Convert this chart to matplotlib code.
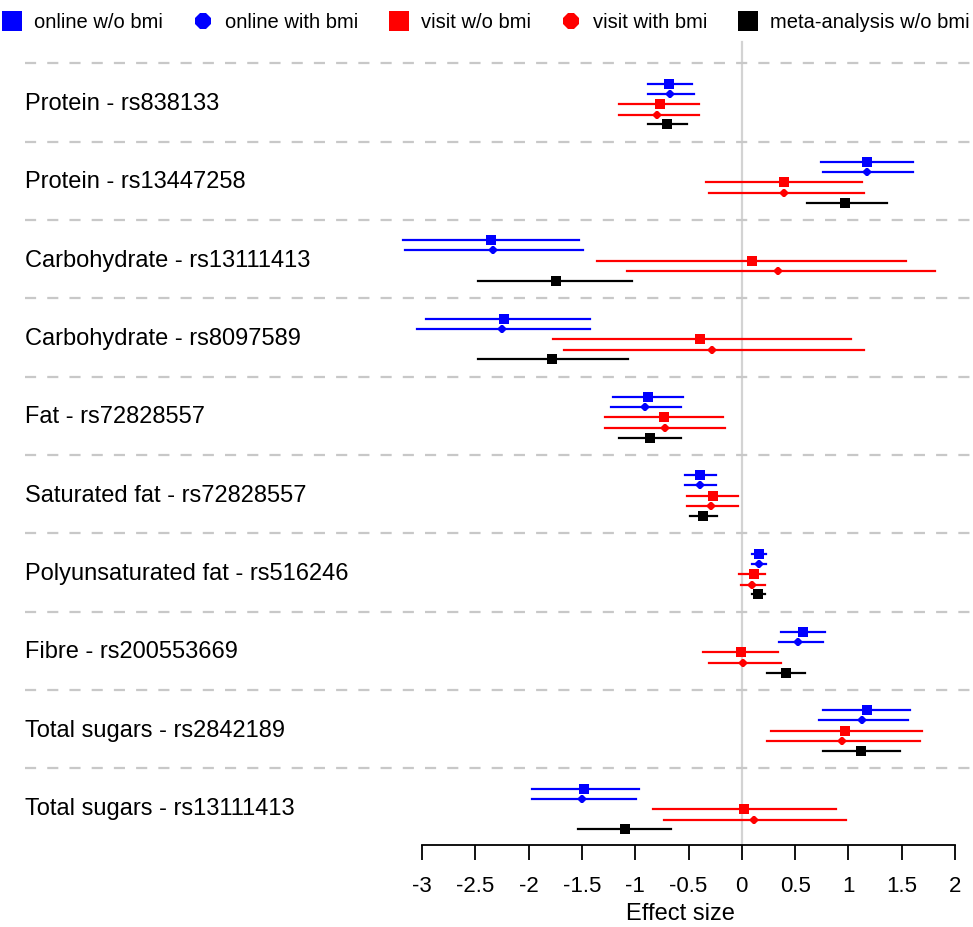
import matplotlib
matplotlib.use('Agg')
import matplotlib.pyplot as plt
import matplotlib.transforms as mtransforms
from matplotlib.lines import Line2D

plt.rcParams['font.family'] = ['Liberation Sans', 'DejaVu Sans']

# rows of the forest plot, top to bottom
rows = ['Protein - rs838133', 'Protein - rs13447258', 'Carbohydrate - rs13111413',
        'Carbohydrate - rs8097589', 'Fat - rs72828557', 'Saturated fat - rs72828557',
        'Polyunsaturated fat - rs516246', 'Fibre - rs200553669',
        'Total sugars - rs2842189', 'Total sugars - rs13111413']

series = ['online w/o bmi', 'online with bmi', 'visit w/o bmi', 'visit with bmi',
          'meta-analysis w/o bmi']

# estimates and confidence limits per series
online_wo = [-0.68, 1.17, -2.35, -2.23, -0.88, -0.39, 0.16, 0.57, 1.17, -1.48]
online_wo_lo = [-0.88, 0.74, -3.18, -2.96, -1.21, -0.53, 0.10, 0.37, 0.76, -1.97]
online_wo_hi = [-0.47, 1.61, -1.53, -1.42, -0.55, -0.24, 0.23, 0.78, 1.58, -0.96]

online_with = [-0.67, 1.17, -2.33, -2.25, -0.91, -0.39, 0.16, 0.53, 1.13, -1.50]
online_with_lo = [-0.88, 0.76, -3.16, -3.05, -1.23, -0.53, 0.10, 0.35, 0.72, -1.97]
online_with_hi = [-0.45, 1.61, -1.49, -1.42, -0.57, -0.24, 0.23, 0.76, 1.56, -0.99]

visit_wo = [-0.77, 0.40, 0.10, -0.39, -0.73, -0.27, 0.11, -0.01, 0.97, 0.02]
visit_wo_lo = [-1.15, -0.34, -1.36, -1.77, -1.28, -0.51, -0.03, -0.36, 0.27, -0.83]
visit_wo_hi = [-0.40, 1.13, 1.54, 1.02, -0.18, -0.04, 0.22, 0.34, 1.69, 0.88]

visit_with = [-0.80, 0.40, 0.34, -0.28, -0.72, -0.29, 0.10, 0.01, 0.94, 0.11]
visit_with_lo = [-1.15, -0.31, -1.08, -1.67, -1.28, -0.51, -0.01, -0.31, 0.24, -0.73]
visit_with_hi = [-0.40, 1.15, 1.81, 1.15, -0.16, -0.04, 0.22, 0.37, 1.67, 0.98]

meta_wo = [-0.70, 0.97, -1.74, -1.78, -0.86, -0.36, 0.15, 0.41, 1.12, -1.10]
meta_wo_lo = [-0.88, 0.61, -2.47, -2.47, -1.15, -0.49, 0.10, 0.24, 0.76, -1.54]
meta_wo_hi = [-0.51, 1.36, -1.03, -1.07, -0.57, -0.23, 0.22, 0.59, 1.48, -0.66]

xticks = [-3, -2.5, -2, -1.5, -1, -0.5, 0, 0.5, 1, 1.5, 2]
xticklabels = ['-3', '-2.5', '-2', '-1.5', '-1', '-0.5', '0', '0.5', '1', '1.5', '2']

data = [
    (online_wo, online_wo_lo, online_wo_hi, 'blue', 's', 7.5),
    (online_with, online_with_lo, online_with_hi, 'blue', '8', 5.5),
    (visit_wo, visit_wo_lo, visit_wo_hi, 'red', 's', 7.5),
    (visit_with, visit_with_lo, visit_with_hi, 'red', '8', 5.5),
    (meta_wo, meta_wo_lo, meta_wo_hi, 'black', 's', 7.5),
]
offsets = [-0.26, -0.13, 0.0, 0.135, 0.26]

fig = plt.figure(figsize=(9.73, 9.27), dpi=100)
ax = fig.add_axes([25 / 973, 82 / 927, 948 / 973, 805 / 927])

px = 106.6  # pixels per unit
ax.set_xlim(-3 - 397 / px, 2 + 18 / px)
ax.set_ylim(9 + 36 / 78.3, -64 / 78.3)

n = len(rows)
for i in range(n):
    ax.axhline(i - 0.52, color='#c8c8c8', lw=1.6, dashes=(5, 5))

ax.plot([0, 0], [9 + 36 / 78.3, -62 / 78.3], color='#d3d3d3', lw=1.6, zorder=1)

for (est, lo, hi, col, mk, ms), off in zip(data, offsets):
    for i in range(n):
        y = i + off
        ax.plot([lo[i], hi[i]], [y, y], color=col, lw=1.6, zorder=3)
        ax.plot(est[i], y, marker=mk, color=col, ms=ms, mew=0, zorder=4,
                linestyle='none')

trans = mtransforms.blended_transform_factory(ax.transAxes, ax.transData)
for i, name in enumerate(rows):
    ax.text(0, i, name, transform=trans, ha='left', va='center', fontsize=17)

for side in ['left', 'right', 'top']:
    ax.spines[side].set_visible(False)
ax.spines['bottom'].set_bounds(-3, 2)
ax.spines['bottom'].set_linewidth(1.3)
ax.set_yticks([])
ax.set_xticks(xticks)
ax.set_xticklabels(xticklabels, fontsize=16)
ax.tick_params(axis='x', length=11, width=1.3, pad=11)
ax.set_xlabel('Effect size', fontsize=17)
ax.xaxis.set_label_coords(655 / 948, -58 / 805)

handles = [Line2D([], [], color=c, marker=m, linestyle='none', mew=0,
                  ms=14 if m == 's' else 12)
           for (_, _, _, c, m, _) in data]
fig.legend(handles, series, loc='upper center', bbox_to_anchor=(0.5, 1.006), ncol=5,
           frameon=False, fontsize=14.5, handlelength=0.8, handletextpad=0.7,
           columnspacing=1.6)

fig.savefig('out.png', dpi=100)
